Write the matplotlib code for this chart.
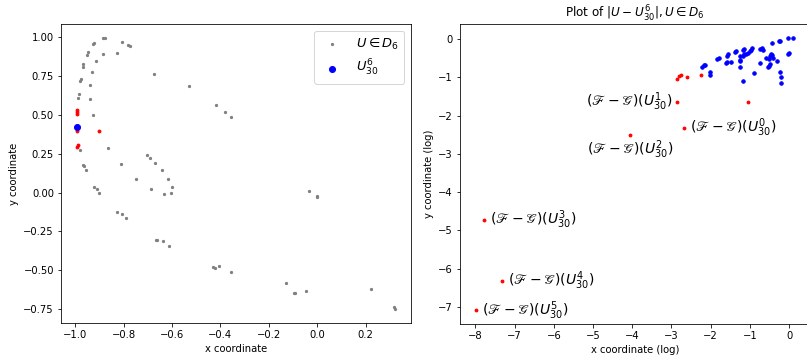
import numpy as np
import matplotlib.pyplot as plt

# left panel: points of D6 (gray), red points, U_30^6 (blue)
gray_x = [-0.887, -0.875, -0.806, -0.781, -0.773, -0.921, -0.927, -0.887, -0.828, -0.948,
          -0.952, -0.916, -0.966, -0.969, -0.931, -0.676, -0.977, -0.979, -0.938, -0.528,
          -0.986, -0.988, -0.937, -0.416, -0.380, -0.354, -0.926, -0.864, -0.982, -0.812,
          -0.969, -0.962, -0.957, -0.705, -0.690, -0.669, -0.643, -0.750, -0.617, -0.601,
          -0.686, -0.632, -0.603, -0.921, -0.908, -0.901, -0.032, -0.002, 0.000, -0.828,
          -0.806, -0.789, -0.667, -0.663, -0.638, -0.612, -0.431, -0.424, -0.405, -0.357,
          -0.128, -0.097, -0.093, -0.047, 0.317, 0.321, 0.223]
gray_y = [0.996, 0.998, 0.970, 0.950, 0.944, 0.966, 0.955, 0.893, 0.896, 0.906,
          0.889, 0.845, 0.825, 0.808, 0.774, 0.765, 0.733, 0.716, 0.692, 0.686,
          0.634, 0.612, 0.601, 0.562, 0.519, 0.489, 0.500, 0.289, 0.276, 0.184,
          0.179, 0.169, 0.146, 0.239, 0.220, 0.191, 0.143, 0.090, 0.088, 0.034,
          0.024, -0.011, -0.004, 0.037, 0.024, 0.000, 0.011, -0.024, -0.026, -0.124,
          -0.136, -0.166, -0.302, -0.307, -0.313, -0.345, -0.477, -0.484, -0.471, -0.512,
          -0.581, -0.645, -0.645, -0.632, -0.737, -0.752, -0.622]
red_x = [-0.992, -0.992, -0.992, -0.993, -0.992, -0.902, -0.988, -0.991]
red_y = [0.532, 0.517, 0.505, 0.412, 0.397, 0.396, 0.306, 0.296]
u6_x = [-0.993]
u6_y = [0.420]

# right panel: log coordinates of |U - U_30^6|
blue_lx = [0.10, -0.04, -0.22, -0.26, -0.44, -0.70, -0.74, -0.67, -0.95, -0.98,
           -0.99, -1.04, -1.10, -1.15, -1.18, -1.14, -1.18, -1.35, -1.37, -1.56,
           -1.59, -1.80, -1.84, -1.25, -1.26, -1.48, -1.61, -0.46, -0.43, -0.48,
           -0.40, -0.51, -0.60, 0.00, -0.02, -0.32, -0.74, -0.48, -0.51, -0.54,
           -1.26, -2.14, -2.18, -2.22, -2.01, -2.02, -0.89, -0.24, -0.21, -0.20,
           -1.17, -1.24, -1.58]
blue_ly = [0.04, 0.02, -0.04, -0.05, -0.11, -0.24, -0.26, -0.28, -0.24, -0.28,
           -0.32, -0.36, -0.40, -0.39, -0.44, -0.26, -0.29, -0.31, -0.34, -0.39,
           -0.44, -0.50, -0.53, -0.55, -0.57, -0.60, -0.62, -0.38, -0.41, -0.45,
           -0.48, -0.52, -0.48, -0.37, -0.40, -0.58, -0.63, -0.64, -0.70, -0.74,
           -0.74, -0.67, -0.68, -0.72, -0.86, -0.93, -0.89, -0.85, -0.99, -1.15,
           -1.09, -0.43, -0.60]
red_lx = [-2.86, -2.82, -2.76, -2.60, -2.26, -1.04]
red_ly = [-1.05, -0.96, -0.94, -0.98, -0.94, -1.63]

# labelled points (F - G)(U_30^k), k = 0..5
fg_k = [0, 1, 2, 3, 4, 5]
fg_lx = [-2.69, -2.86, -4.06, -7.79, -7.32, -7.99]
fg_ly = [-2.32, -1.63, -2.50, -4.72, -6.32, -7.09]
fg_offset = [(6, 0), (-4, 0), (0, -4), (6, 0), (6, 0), (6, 0)]
fg_align = [("left", "center"), ("right", "center"), ("center", "top"),
            ("left", "center"), ("left", "center"), ("left", "center")]

W, H = 807, 355
fig = plt.figure(figsize=(W / 72, H / 72), dpi=72)
ax1 = fig.add_axes([61 / W, (H - 323) / H, (410.7 - 61) / W, 299 / H])
ax2 = fig.add_axes([460 / W, (H - 324) / H, (810 - 460) / W, 300 / H])

ax1.scatter(gray_x, gray_y, s=5, color="gray", label=r"$U \in D_6$")
ax1.scatter(red_x, red_y, s=8, color="red")
ax1.scatter(u6_x, u6_y, s=36, color="blue", label=r"$U_{30}^6$")
ax1.set_xlabel("x coordinate")
ax1.set_ylabel("y coordinate")
ax1.legend(loc="upper right", fontsize=13)

ax2.scatter(blue_lx, blue_ly, s=12, color="blue")
ax2.scatter(red_lx, red_ly, s=8, color="red")
ax2.scatter(fg_lx, fg_ly, s=8, color="red")
for k, x, y, off, (ha, va) in zip(fg_k, fg_lx, fg_ly, fg_offset, fg_align):
    ax2.annotate(r"$(\mathscr{F} - \mathscr{G})(U_{30}^{%d})$" % k, (x, y),
                 xytext=off, textcoords="offset points", ha=ha, va=va, fontsize=14)
ax2.set_xlim(-8.395, 0.533)
ax2.set_xlabel("x coordinate (log)")
ax2.set_ylabel("y coordinate (log)")
ax2.set_title(r"Plot of $|U - U_{30}^6|, U \in D_6$")

fig.savefig("out.png", dpi=72)
